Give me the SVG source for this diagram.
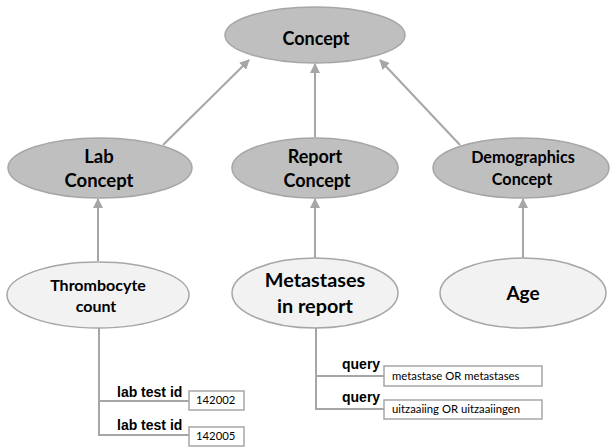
<svg xmlns="http://www.w3.org/2000/svg" width="610" height="448" viewBox="0 0 610 448">
  <style>
    .dark { fill: #bfbfbf; stroke: #a6a6a6; stroke-width: 1.5; }
    .light { fill: #f2f2f2; stroke: #a6a6a6; stroke-width: 1.5; }
    .lbl { font-family: Lato, "Open Sans", sans-serif; font-weight: bold; fill: #000; text-anchor: middle; }
    .edge { stroke: #a6a6a6; stroke-width: 2; fill: none; }
    .tree { stroke: #a6a6a6; stroke-width: 2; fill: none; }
    .box { fill: #fff; stroke: #a6a6a6; stroke-width: 1.5; }
    .key { font-family: "Liberation Sans", Arial, sans-serif; font-weight: bold; font-size: 14px; fill: #000; }
    .val { font-family: Lato, "Open Sans", sans-serif; font-size: 11.3px; fill: #000; }
  </style>
  <defs>
    <marker id="arr" viewBox="0 0 10 10" refX="9" refY="5" markerWidth="5" markerHeight="5" orient="auto" markerUnits="strokeWidth">
      <path d="M0,0 L10,5 L0,10 z" fill="#a6a6a6"/>
    </marker>
  </defs>

  <g id="connectors">
    <line class="edge" x1="163" y1="145" x2="249" y2="60" marker-end="url(#arr)"/>
    <line class="edge" x1="315" y1="137" x2="315" y2="64" marker-end="url(#arr)"/>
    <line class="edge" x1="460" y1="145" x2="380" y2="60" marker-end="url(#arr)"/>
    <line class="edge" x1="98" y1="261" x2="98" y2="199" marker-end="url(#arr)"/>
    <line class="edge" x1="315" y1="259" x2="315" y2="199" marker-end="url(#arr)"/>
    <line class="edge" x1="523" y1="259" x2="523" y2="199" marker-end="url(#arr)"/>
    <path class="tree" d="M99,328 V435 H189 M99,401 H189"/>
    <path class="tree" d="M316,328 V409 H384 M316,376 H384"/>
  </g>

  <g id="concept">
    <ellipse class="dark" cx="315" cy="35" rx="90" ry="28"/>
    <text class="lbl" x="316" y="45" font-size="18">Concept</text>
  </g>
  <g id="lab-concept">
    <ellipse class="dark" cx="100" cy="168" rx="92" ry="30"/>
    <text class="lbl" x="99" y="163" font-size="18.5">Lab</text>
    <text class="lbl" x="99" y="187" font-size="18.5">Concept</text>
  </g>
  <g id="report-concept">
    <ellipse class="dark" cx="315" cy="168" rx="83" ry="30"/>
    <text class="lbl" x="315" y="163" font-size="18">Report</text>
    <text class="lbl" x="317" y="187" font-size="18">Concept</text>
  </g>
  <g id="demographics-concept">
    <ellipse class="dark" cx="521" cy="168" rx="88" ry="30"/>
    <text class="lbl" x="523" y="163" font-size="16.2">Demographics</text>
    <text class="lbl" x="522" y="185" font-size="16.2">Concept</text>
  </g>
  <g id="thrombocyte-count">
    <ellipse class="light" cx="98" cy="295" rx="91" ry="33"/>
    <text class="lbl" x="98" y="291" font-size="16">Thrombocyte</text>
    <text class="lbl" x="96" y="312" font-size="16">count</text>
  </g>
  <g id="metastases-in-report">
    <ellipse class="light" cx="315" cy="293" rx="83" ry="35"/>
    <text class="lbl" x="315" y="287" font-size="19.8">Metastases</text>
    <text class="lbl" x="315" y="313" font-size="19.8">in report</text>
  </g>
  <g id="age">
    <ellipse class="light" cx="523" cy="293" rx="83" ry="35"/>
    <text class="lbl" x="523" y="300" font-size="19">Age</text>
  </g>

  <g id="lab-test-1">
    <text class="key" x="117" y="397">lab test id</text>
    <rect class="box" x="189" y="391" width="55" height="19"/>
    <text class="val" x="196" y="404">142002</text>
  </g>
  <g id="lab-test-2">
    <text class="key" x="117" y="430">lab test id</text>
    <rect class="box" x="189" y="427" width="55" height="19"/>
    <text class="val" x="196" y="440">142005</text>
  </g>
  <g id="query-1">
    <text class="key" x="342" y="369">query</text>
    <rect class="box" x="384" y="366" width="158" height="20"/>
    <text class="val" x="392" y="380">metastase OR metastases</text>
  </g>
  <g id="query-2">
    <text class="key" x="342" y="402">query</text>
    <rect class="box" x="384" y="400" width="158" height="19"/>
    <text class="val" x="392" y="413">uitzaaiing OR uitzaaiingen</text>
  </g>
</svg>
